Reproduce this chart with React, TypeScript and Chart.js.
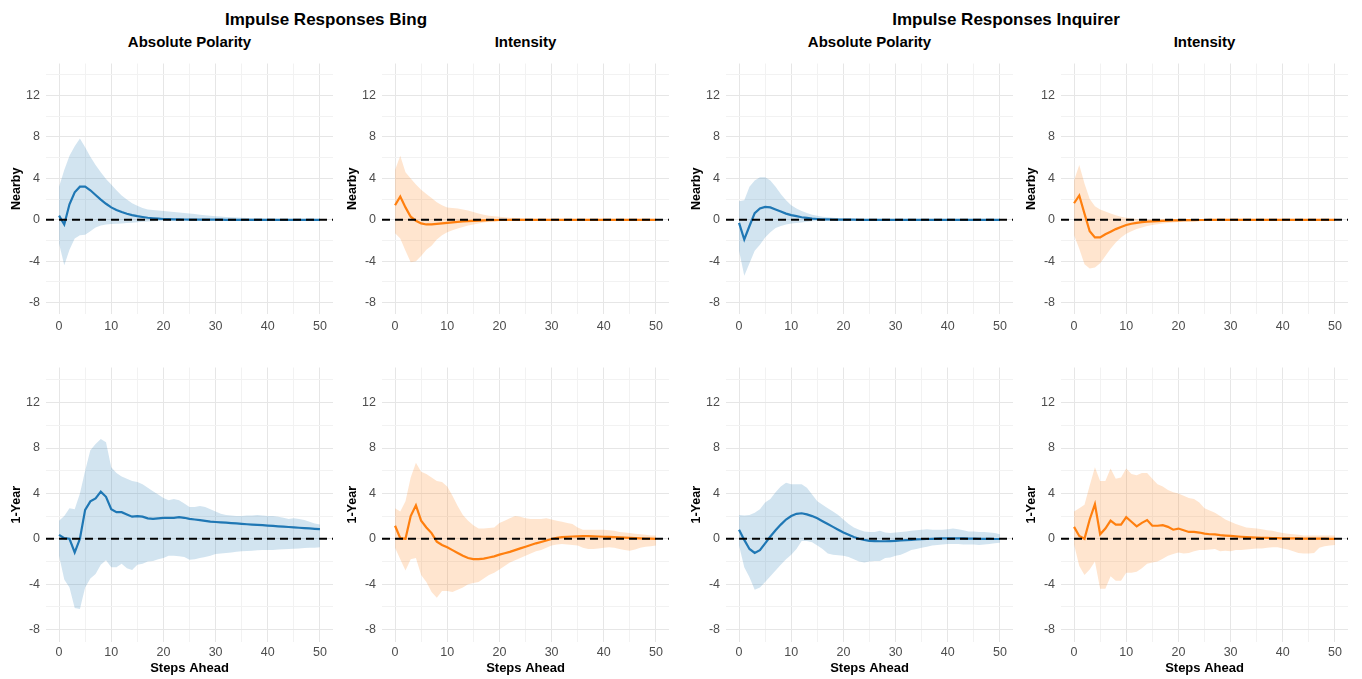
import React, { useEffect, useRef } from "react";
import { Chart, registerables } from "chart.js";

Chart.register(...registerables);
Chart.defaults.font.family = "'Liberation Sans', Arial, Helvetica, sans-serif";

// ---------- data ----------
const steps = [
  0, 1, 2, 3, 4, 5, 6, 7, 8, 9,
  10, 11, 12, 13, 14, 15, 16, 17, 18, 19,
  20, 21, 22, 23, 24, 25, 26, 27, 28, 29,
  30, 31, 32, 33, 34, 35, 36, 37, 38, 39,
  40, 41, 42, 43, 44, 45, 46, 47, 48, 49, 50,
];
const xTicks = [0, 5, 10, 15, 20, 25, 30, 35, 40, 45, 50];
const yTicks = [-8, -6, -4, -2, 0, 2, 4, 6, 8, 10, 12, 14];
const groupTitles = ["Impulse Responses Bing", "Impulse Responses Inquirer"];
const columnTitles = ["Absolute Polarity", "Intensity", "Absolute Polarity", "Intensity"];
const rowTitles = ["Nearby", "1-Year"];
const xAxisTitle = "Steps Ahead";

// Bing – Absolute Polarity – Nearby
const bingPolNearIrf = [
  0.4, -0.45, 1.5, 2.65, 3.2, 3.2, 2.85, 2.4, 1.95, 1.55,
  1.2, 0.95, 0.75, 0.58, 0.45, 0.35, 0.27, 0.2, 0.15, 0.11,
  0.08, 0.06, 0.05, 0.04, 0.03, 0.02, 0.02, 0.01, 0.01, 0.01,
  0.01, 0.01, 0, 0, 0, 0, 0, 0, 0, 0,
  0, 0, 0, 0, 0, 0, 0, 0, 0, 0, 0,
];
const bingPolNearHi = [
  3.2, 4.8, 6.2, 7.1, 7.85, 7.0, 6.1, 5.3, 4.6, 3.95,
  3.4, 2.85, 2.35, 1.95, 1.6, 1.35, 1.15, 1.0, 0.95, 0.9,
  0.85, 0.8, 0.75, 0.7, 0.65, 0.6, 0.55, 0.5, 0.45, 0.4,
  0.35, 0.32, 0.28, 0.25, 0.22, 0.2, 0.18, 0.16, 0.14, 0.12,
  0.1, 0.09, 0.08, 0.07, 0.06, 0.05, 0.05, 0.04, 0.04, 0.03, 0.03,
];
const bingPolNearLo = [
  -2.3, -4.4, -2.9, -1.8, -1.5, -1.45, -1.1, -0.75, -0.55, -0.45,
  -0.4, -0.37, -0.35, -0.32, -0.28, -0.24, -0.2, -0.17, -0.14, -0.12,
  -0.1, -0.09, -0.08, -0.07, -0.06, -0.05, -0.05, -0.04, -0.04, -0.03,
  -0.03, -0.03, -0.02, -0.02, -0.02, -0.02, -0.02, -0.02, -0.02, -0.02,
  -0.02, -0.02, -0.02, -0.02, -0.02, -0.02, -0.02, -0.02, -0.02, -0.02, -0.02,
];

// Bing – Intensity – Nearby
const bingIntNearIrf = [
  1.4, 2.25, 1.2, 0.3, -0.1, -0.35, -0.45, -0.45, -0.4, -0.35,
  -0.3, -0.25, -0.2, -0.15, -0.12, -0.1, -0.07, -0.05, -0.04, -0.03,
  -0.02, -0.02, -0.01, -0.01, 0, 0, 0, 0, 0, 0,
  0, 0, 0, 0, 0, 0, 0, 0, 0, 0,
  0, 0, 0, 0, 0, 0, 0, 0, 0, 0, 0,
];
const bingIntNearHi = [
  4.8, 6.2, 4.6, 4.0, 3.4, 2.9, 2.5, 2.1, 1.7, 1.4,
  1.2, 1.15, 1.1, 1.0, 0.9, 0.75, 0.6, 0.5, 0.4, 0.35,
  0.3, 0.25, 0.2, 0.17, 0.15, 0.12, 0.1, 0.08, 0.07, 0.06,
  0.05, 0.04, 0.04, 0.03, 0.03, 0.02, 0.02, 0.02, 0.02, 0.02,
  0.02, 0.02, 0.02, 0.02, 0.02, 0.02, 0.02, 0.02, 0.02, 0.02, 0.02,
];
const bingIntNearLo = [
  -1.3, -1.8, -3.0, -4.1, -4.0, -3.5, -2.9, -2.5, -1.9, -1.5,
  -1.2, -1.0, -0.85, -0.7, -0.55, -0.45, -0.35, -0.25, -0.18, -0.12,
  -0.1, -0.08, -0.07, -0.06, -0.05, -0.04, -0.04, -0.03, -0.03, -0.02,
  -0.02, -0.02, -0.02, -0.02, -0.02, -0.02, -0.02, -0.02, -0.02, -0.02,
  -0.02, -0.02, -0.02, -0.02, -0.02, -0.02, -0.02, -0.02, -0.02, -0.02, -0.02,
];

// Inquirer – Absolute Polarity – Nearby
const inqPolNearIrf = [
  -0.3, -1.9, -0.6, 0.65, 1.1, 1.25, 1.2, 1.0, 0.8, 0.6,
  0.45, 0.35, 0.25, 0.18, 0.12, 0.08, 0.05, 0.04, 0.03, 0.02,
  0.02, 0.01, 0.01, 0, 0, 0, 0, 0, 0, 0,
  0, 0, 0, 0, 0, 0, 0, 0, 0, 0,
  0, 0, 0, 0, 0, 0, 0, 0, 0, 0, 0,
];
const inqPolNearHi = [
  1.8, 1.9, 3.2, 3.8, 4.1, 4.1, 3.8, 3.2, 2.5, 1.9,
  1.4, 1.1, 0.85, 0.65, 0.5, 0.4, 0.3, 0.25, 0.2, 0.16,
  0.12, 0.1, 0.08, 0.07, 0.06, 0.05, 0.04, 0.04, 0.03, 0.03,
  0.02, 0.02, 0.02, 0.02, 0.02, 0.02, 0.02, 0.02, 0.02, 0.02,
  0.02, 0.02, 0.02, 0.02, 0.02, 0.02, 0.02, 0.02, 0.02, 0.02, 0.02,
];
const inqPolNearLo = [
  -3.0, -5.4, -4.2, -3.0, -2.4, -1.7, -1.2, -0.8, -0.6, -0.45,
  -0.35, -0.3, -0.25, -0.2, -0.15, -0.12, -0.1, -0.08, -0.07, -0.06,
  -0.05, -0.04, -0.04, -0.03, -0.03, -0.02, -0.02, -0.02, -0.02, -0.02,
  -0.02, -0.02, -0.02, -0.02, -0.02, -0.02, -0.02, -0.02, -0.02, -0.02,
  -0.02, -0.02, -0.02, -0.02, -0.02, -0.02, -0.02, -0.02, -0.02, -0.02, -0.02,
];

// Inquirer – Intensity – Nearby
const inqIntNearIrf = [
  1.6, 2.35, 0.6, -1.1, -1.7, -1.7, -1.4, -1.15, -0.9, -0.7,
  -0.5, -0.38, -0.3, -0.23, -0.18, -0.15, -0.12, -0.1, -0.08, -0.06,
  -0.05, -0.04, -0.03, -0.03, -0.02, -0.02, -0.01, -0.01, -0.01, -0.01,
  0, 0, 0, 0, 0, 0, 0, 0, 0, 0,
  0, 0, 0, 0, 0, 0, 0, 0, 0, 0, 0,
];
const inqIntNearHi = [
  3.8, 5.3, 3.5, 2.0, 1.3, 1.0, 0.8, 0.6, 0.45, 0.3,
  0.2, 0.12, 0.08, 0.05, 0.05, 0.05, 0.05, 0.05, 0.05, 0.05,
  0.05, 0.04, 0.04, 0.03, 0.03, 0.03, 0.02, 0.02, 0.02, 0.02,
  0.02, 0.02, 0.02, 0.02, 0.02, 0.02, 0.02, 0.02, 0.02, 0.02,
  0.02, 0.02, 0.02, 0.02, 0.02, 0.02, 0.02, 0.02, 0.02, 0.02, 0.02,
];
const inqIntNearLo = [
  -1.5, -2.8, -4.3, -4.7, -4.6, -4.2, -3.5, -2.8, -2.2, -1.7,
  -1.35, -1.1, -0.9, -0.75, -0.6, -0.5, -0.42, -0.35, -0.3, -0.26,
  -0.22, -0.2, -0.17, -0.15, -0.13, -0.11, -0.1, -0.09, -0.08, -0.07,
  -0.06, -0.05, -0.05, -0.04, -0.04, -0.03, -0.03, -0.03, -0.02, -0.02,
  -0.02, -0.02, -0.02, -0.02, -0.02, -0.02, -0.02, -0.02, -0.02, -0.02, -0.02,
];

// Bing – Absolute Polarity – 1-Year
const bingPolYearIrf = [
  0.35, 0.05, 0.0, -1.2, 0.0, 2.55, 3.3, 3.55, 4.15, 3.7,
  2.6, 2.35, 2.35, 2.15, 1.95, 2.0, 1.95, 1.8, 1.75, 1.8,
  1.85, 1.85, 1.85, 1.9, 1.85, 1.75, 1.7, 1.65, 1.58, 1.52,
  1.48, 1.45, 1.42, 1.38, 1.35, 1.32, 1.28, 1.25, 1.22, 1.2,
  1.16, 1.13, 1.1, 1.07, 1.04, 1.0, 0.97, 0.94, 0.91, 0.88, 0.85,
];
const bingPolYearHi = [
  1.6, 2.0, 2.7, 2.6, 4.0, 6.0, 7.8, 8.35, 8.8, 8.5,
  6.3, 5.8, 5.5, 5.3, 5.1, 5.0, 4.8, 4.5, 4.2, 3.9,
  3.6, 3.4, 3.5, 3.4, 3.1, 2.8, 2.8, 2.9, 2.8, 2.6,
  2.4, 2.2, 2.1, 2.05, 2.0, 2.0, 2.05, 2.05, 2.1, 2.05,
  2.0, 2.0, 1.95, 1.85, 1.75, 1.8, 1.75, 1.65, 1.5, 1.35, 1.25,
];
const bingPolYearLo = [
  -1.5, -3.6, -4.3, -6.1, -6.2, -4.3, -3.5, -3.1, -2.3, -1.9,
  -2.5, -2.5, -2.2, -2.6, -2.75, -2.3, -2.2, -2.0, -1.95, -1.8,
  -1.7, -1.5, -1.5, -1.55, -1.6, -1.85, -1.8, -1.7, -1.6, -1.5,
  -1.35, -1.3, -1.25, -1.2, -1.15, -1.1, -1.08, -1.05, -1.02, -1.0,
  -1.0, -0.98, -0.95, -0.92, -0.9, -0.88, -0.85, -0.82, -0.8, -0.78, -0.75,
];

// Bing – Intensity – 1-Year
const bingIntYearIrf = [
  1.15, 0.05, 0.0, 2.0, 2.95, 1.6, 1.0, 0.5, -0.25, -0.55,
  -0.75, -1.0, -1.25, -1.5, -1.7, -1.8, -1.8, -1.75, -1.65, -1.55,
  -1.4, -1.28, -1.15, -1.0, -0.85, -0.7, -0.55, -0.4, -0.28, -0.15,
  -0.02, 0.08, 0.15, 0.18, 0.2, 0.22, 0.23, 0.23, 0.22, 0.2,
  0.18, 0.16, 0.14, 0.12, 0.1, 0.08, 0.06, 0.04, 0.02, 0.01, 0.0,
];
const bingIntYearHi = [
  2.7, 2.4, 3.3, 5.4, 6.7, 5.9, 5.7, 5.4, 5.1, 5.0,
  4.6, 3.8, 2.9, 2.1, 1.6, 1.2, 0.9, 0.9, 0.95, 1.0,
  1.4, 1.6, 1.8, 2.0, 1.95, 1.8, 1.75, 1.75, 1.75, 1.8,
  1.7, 1.6, 1.5, 1.4, 1.3, 1.0, 0.8, 0.8, 0.8, 0.8,
  0.8, 0.75, 0.7, 0.6, 0.55, 0.5, 0.45, 0.4, 0.35, 0.3, 0.3,
];
const bingIntYearLo = [
  -0.8, -1.8, -2.8, -1.8, -1.7, -3.2, -3.8, -4.7, -5.2, -4.6,
  -4.6, -4.7, -4.5, -4.3, -4.0, -3.9, -3.8, -3.5, -3.2, -3.0,
  -2.7, -2.4, -2.1, -1.9, -1.7, -1.5, -1.3, -1.1, -1.0, -0.8,
  -0.6, -0.5, -0.45, -0.5, -0.55, -0.6, -0.8, -0.9, -0.9, -0.85,
  -0.8, -0.75, -0.8, -0.9, -1.0, -1.05, -0.95, -0.8, -0.7, -0.65, -0.6,
];

// Inquirer – Absolute Polarity – 1-Year
const inqPolYearIrf = [
  0.8, -0.1, -0.9, -1.25, -1.0, -0.4, 0.2, 0.75, 1.25, 1.7,
  2.0, 2.2, 2.25, 2.15, 2.0, 1.8, 1.55, 1.3, 1.05, 0.8,
  0.55, 0.35, 0.15, 0.0, -0.1, -0.18, -0.2, -0.22, -0.22, -0.2,
  -0.18, -0.15, -0.12, -0.09, -0.06, -0.04, -0.02, 0.0, 0.02, 0.03,
  0.04, 0.04, 0.04, 0.03, 0.02, 0.01, 0.0, -0.01, -0.01, -0.02, -0.02,
];
const inqPolYearHi = [
  2.1, 2.05, 2.1, 2.3, 2.6, 3.2, 3.5, 4.1, 4.6, 4.95,
  4.8, 4.8, 4.8, 4.5, 3.9, 3.3, 3.0, 2.7, 2.4, 2.1,
  1.7, 1.3, 1.0, 0.8, 0.65, 0.6, 0.6, 0.7, 0.55, 0.5,
  0.55, 0.6, 0.65, 0.7, 0.75, 0.8, 0.85, 0.8, 0.8, 0.8,
  0.85, 0.9, 0.85, 0.75, 0.65, 0.65, 0.6, 0.6, 0.55, 0.5, 0.4,
];
const inqPolYearLo = [
  -0.6, -2.5, -3.4, -4.5, -4.3, -3.8, -3.3, -2.8, -2.3, -1.8,
  -1.4, -0.9, -0.2, -0.2, -0.3, -0.6, -0.9, -1.3, -1.4, -1.45,
  -1.5, -1.6, -1.8, -2.0, -2.1, -2.0, -1.95, -1.95, -1.7, -1.65,
  -1.5, -1.4, -1.2, -1.0, -0.9, -0.8, -0.7, -0.6, -0.55, -0.5,
  -0.45, -0.45, -0.45, -0.5, -0.5, -0.5, -0.55, -0.5, -0.45, -0.4, -0.35,
];

// Inquirer – Intensity – 1-Year
const inqIntYearIrf = [
  1.05, 0.25, 0.0, 1.7, 3.05, 0.4, 0.9, 1.6, 1.25, 1.25,
  1.9, 1.5, 1.1, 1.4, 1.65, 1.15, 1.15, 1.2, 1.05, 0.8,
  0.9, 0.75, 0.6, 0.6, 0.55, 0.45, 0.4, 0.38, 0.32, 0.28,
  0.25, 0.22, 0.18, 0.15, 0.13, 0.11, 0.09, 0.08, 0.06, 0.05,
  0.04, 0.04, 0.03, 0.03, 0.02, 0.02, 0.01, 0.01, 0.01, 0.0, 0.0,
];
const inqIntYearHi = [
  2.4, 2.7, 3.0, 4.7, 6.3, 5.1, 5.1, 6.2, 5.3, 5.4,
  6.2, 5.7, 5.6, 5.8, 5.8, 5.3, 4.8, 4.6, 4.3, 4.1,
  4.0, 3.8, 3.6, 3.5, 3.2, 2.7, 2.5, 2.3, 2.0, 1.7,
  1.5, 1.3, 1.15, 1.0, 0.95, 0.9, 0.85, 0.75, 0.7, 0.6,
  0.5, 0.45, 0.4, 0.35, 0.3, 0.3, 0.3, 0.3, 0.3, 0.3, 0.3,
];
const inqIntYearLo = [
  -0.5, -2.4, -3.2, -2.7, -2.0, -4.4, -4.4, -3.3, -3.7, -3.7,
  -3.0, -3.0, -2.9, -2.6, -2.2, -2.1, -2.0, -1.75, -1.5, -1.35,
  -1.2, -1.3, -1.25, -1.1, -1.0, -1.0, -0.95, -0.9, -1.1, -1.05,
  -1.1, -1.0, -1.0, -0.95, -0.9, -0.85, -0.85, -0.8, -0.75, -0.75,
  -0.85, -0.95, -1.1, -1.25, -1.3, -1.3, -1.25, -0.8, -0.65, -0.6, -0.55,
];

// ---------- styling ----------
const BLUE = "#1f77b4";
const BLUE_BAND = "rgba(31,119,180,0.2)";
const ORANGE = "#ff7f0e";
const ORANGE_BAND = "rgba(255,127,14,0.2)";
const GRID_MAJOR = "#e6e6e6";
const GRID_MINOR = "#f2f2f2";
const TICK_COLOR = "#4d4d4d";

const colLeft = [0, 336, 680, 1015];
const rowTop = [50, 354];
const rowHeight = [290, 325];
const CANVAS_W = 340;
const Y_AXIS_W = 46;

type PanelDef = {
  row: number;
  col: number;
  irf: number[];
  lo: number[];
  hi: number[];
  color: string;
  band: string;
};

const panels: PanelDef[] = [
  { row: 0, col: 0, irf: bingPolNearIrf, lo: bingPolNearLo, hi: bingPolNearHi, color: BLUE, band: BLUE_BAND },
  { row: 0, col: 1, irf: bingIntNearIrf, lo: bingIntNearLo, hi: bingIntNearHi, color: ORANGE, band: ORANGE_BAND },
  { row: 0, col: 2, irf: inqPolNearIrf, lo: inqPolNearLo, hi: inqPolNearHi, color: BLUE, band: BLUE_BAND },
  { row: 0, col: 3, irf: inqIntNearIrf, lo: inqIntNearLo, hi: inqIntNearHi, color: ORANGE, band: ORANGE_BAND },
  { row: 1, col: 0, irf: bingPolYearIrf, lo: bingPolYearLo, hi: bingPolYearHi, color: BLUE, band: BLUE_BAND },
  { row: 1, col: 1, irf: bingIntYearIrf, lo: bingIntYearLo, hi: bingIntYearHi, color: ORANGE, band: ORANGE_BAND },
  { row: 1, col: 2, irf: inqPolYearIrf, lo: inqPolYearLo, hi: inqPolYearHi, color: BLUE, band: BLUE_BAND },
  { row: 1, col: 3, irf: inqIntYearIrf, lo: inqIntYearLo, hi: inqIntYearHi, color: ORANGE, band: ORANGE_BAND },
];

function toXY(values: number[]) {
  return steps.map((s, i) => ({ x: s, y: values[i] }));
}

function Panel({ p }: { p: PanelDef }) {
  const ref = useRef<HTMLCanvasElement | null>(null);
  const w = CANVAS_W;
  const h = rowHeight[p.row];
  useEffect(() => {
    if (!ref.current) return;
    const bottomRow = p.row === 1;
    const chart = new Chart(ref.current, {
      type: "line",
      data: {
        datasets: [
          {
            label: "zero",
            data: [
              { x: -2.5, y: 0 },
              { x: 52.5, y: 0 },
            ],
            borderColor: "#000000",
            borderWidth: 2,
            borderDash: [8, 5],
            pointRadius: 0,
            fill: false,
            order: 0,
          },
          {
            label: "irf",
            data: toXY(p.irf),
            borderColor: p.color,
            borderWidth: 2.2,
            pointRadius: 0,
            fill: false,
            tension: 0,
            order: 1,
          },
          {
            label: "upper",
            data: toXY(p.hi),
            borderWidth: 0,
            borderColor: "transparent",
            backgroundColor: p.band,
            pointRadius: 0,
            fill: "+1",
            tension: 0,
            order: 2,
          },
          {
            label: "lower",
            data: toXY(p.lo),
            borderWidth: 0,
            borderColor: "transparent",
            pointRadius: 0,
            fill: false,
            tension: 0,
            order: 3,
          },
        ],
      },
      options: {
        animation: false,
        responsive: false,
        devicePixelRatio: 1,
        layout: { padding: { top: 7, right: 7, left: 0, bottom: 0 } },
        plugins: {
          legend: { display: false },
          tooltip: { enabled: false },
        },
        scales: {
          x: {
            type: "linear",
            min: -2.5,
            max: 52.5,
            afterBuildTicks: (s: any) => {
              s.ticks = xTicks.map((v) => ({ value: v }));
            },
            afterFit: (s: any) => {
              s.height = bottomRow ? 37 : 26;
            },
            border: { display: false },
            grid: {
              drawTicks: false,
              lineWidth: 1,
              color: (c: any) =>
                c.tick && c.tick.value % 10 === 0 ? GRID_MAJOR : GRID_MINOR,
            },
            ticks: {
              autoSkip: false,
              maxRotation: 0,
              padding: bottomRow ? 3 : 5,
              color: TICK_COLOR,
              font: { size: 12.5 },
              callback: (v: any) => (Number(v) % 10 === 0 ? String(v) : ""),
            },
            title: {
              display: bottomRow,
              text: xAxisTitle,
              color: "#000000",
              font: { size: 13, weight: "bold" },
              padding: { top: 0, bottom: 3 },
            },
          },
          y: {
            type: "linear",
            min: -9.1,
            max: 15.1,
            afterBuildTicks: (s: any) => {
              s.ticks = yTicks.map((v) => ({ value: v }));
            },
            afterFit: (s: any) => {
              s.width = Y_AXIS_W;
            },
            border: { display: false },
            grid: {
              drawTicks: false,
              lineWidth: 1,
              color: (c: any) =>
                c.tick && c.tick.value % 4 === 0 ? GRID_MAJOR : GRID_MINOR,
            },
            ticks: {
              autoSkip: false,
              padding: 6,
              color: TICK_COLOR,
              font: { size: 12.5 },
              callback: (v: any) => (Number(v) % 4 === 0 ? String(v) : ""),
            },
            title: {
              display: true,
              text: rowTitles[p.row],
              color: "#000000",
              font: { size: 12.5, weight: "bold" },
              padding: { top: 9, bottom: 0 },
            },
          },
        },
      } as any,
    });
    return () => chart.destroy();
  }, [p]);
  return (
    <canvas
      ref={ref}
      width={w}
      height={h}
      style={{
        position: "absolute",
        left: colLeft[p.col],
        top: rowTop[p.row],
        width: w,
        height: h,
      }}
    />
  );
}

const groupCenters = [326, 1006];
const columnCenters = [189.5, 525.5, 869.5, 1204.5];

export default function App() {
  return (
    <div
      style={{
        position: "absolute",
        left: 0,
        top: 0,
        width: 1362,
        height: 679,
        background: "#ffffff",
        overflow: "hidden",
        fontFamily: "'Liberation Sans', Arial, Helvetica, sans-serif",
      }}
    >
      {groupTitles.map((t, i) => (
        <div
          key={"g" + i}
          style={{
            position: "absolute",
            left: groupCenters[i] - 250,
            width: 500,
            top: 10,
            lineHeight: "20px",
            textAlign: "center",
            fontSize: 17,
            fontWeight: "bold",
            color: "#000",
          }}
        >
          {t}
        </div>
      ))}
      {columnTitles.map((t, i) => (
        <div
          key={"c" + i}
          style={{
            position: "absolute",
            left: columnCenters[i] - 150,
            width: 300,
            top: 34,
            lineHeight: "16px",
            textAlign: "center",
            fontSize: 15,
            fontWeight: "bold",
            color: "#000",
          }}
        >
          {t}
        </div>
      ))}
      {panels.map((p, i) => (
        <Panel key={i} p={p} />
      ))}
    </div>
  );
}
